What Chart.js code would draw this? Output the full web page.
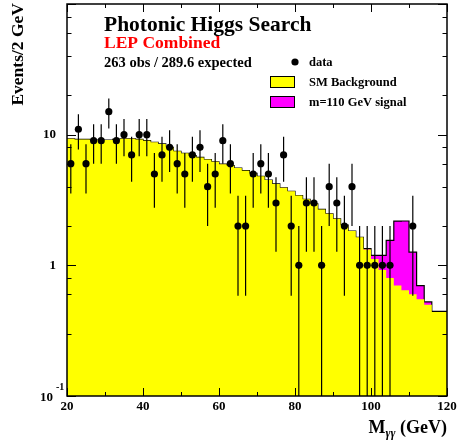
<!DOCTYPE html>
<html>
<head>
<meta charset="utf-8">
<script src="https://cdn.jsdelivr.net/npm/chart.js@4.4.1/dist/chart.umd.min.js"></script>
<style>
  html, body { margin: 0; padding: 0; background: #fff; }
</style>
</head>
<body>
<canvas id="c" width="457" height="441"></canvas>
<script>
const FONT = '"Liberation Serif", "Times New Roman", serif';

// 2 GeV bins from 20 to 120 GeV
const binStart = 20, binWidth = 2;
const observed = [
  6, 11, 6, 9, 9, 15, 9, 10, 7, 10,
  10, 5, 7, 8, 6, 5, 7, 8, 4, 5,
  9, 6, 2, 2, 5, 6, 5, 3, 7, 2,
  1, 3, 3, 1, 4, 3, 2, 4, 1, 1,
  1, 1, 1, 0, 0, 2, 0, 0, 0, 0
];
const smBackground = [
  9.4, 9.3, 9.2, 9.2, 9.1, 9.1, 9.1, 9.2, 9.3, 9.3,
  9.2, 9.0, 8.75, 8.5, 8.0, 7.45, 7.2, 6.9, 6.7, 6.45,
  6.2, 5.95, 5.8, 5.55, 5.3, 5.05, 4.8, 4.5, 4.2, 3.92,
  3.69, 3.42, 3.2, 2.96, 2.68, 2.48, 2.27, 2.03, 1.83, 1.64,
  1.32, 1.12, 0.92, 0.80, 0.70, 0.645, 0.60, 0.55, 0.50, 0.44
];
const higgsSignal = [
  0, 0, 0, 0, 0, 0, 0, 0, 0, 0,
  0, 0, 0, 0, 0, 0, 0, 0, 0, 0,
  0, 0, 0, 0, 0, 0, 0, 0, 0, 0,
  0, 0, 0, 0, 0, 0, 0, 0, 0, 0,
  0.02, 0.07, 0.27, 0.75, 1.48, 1.54, 0.66, 0.15, 0.025, 0.005
];
const xLabelValues = [20, 40, 60, 80, 100, 120];
const yLabelValues = [0.1, 1, 10];

// step outline: one point per lower bin edge, plus the last upper edge
function histPoints(values) {
  const pts = values.map((v, i) => ({ x: binStart + i * binWidth, y: v }));
  pts.push({ x: binStart + values.length * binWidth, y: values[values.length - 1] });
  return pts;
}
const totalExpected = smBackground.map((b, i) => b + higgsSignal[i]);
const dataPoints = observed
  .map((n, i) => ({ x: binStart + (i + 0.5) * binWidth, y: n }))
  .filter(p => p.y > 0);

const rootStyle = {
  id: 'rootStyle',
  beforeDatasetDraw(chart, args) {
    if (args.index !== 0) return;
    const { ctx, chartArea: a, scales: { x, y } } = chart;
    ctx.save();
    ctx.beginPath();
    ctx.rect(a.left, a.top, a.right - a.left, a.bottom - a.top);
    ctx.clip();
    ctx.strokeStyle = '#000';
    ctx.lineWidth = 1.2;
    dataPoints.forEach(p => {
      const err = Math.sqrt(p.y);
      const px = x.getPixelForValue(p.x);
      const hi = y.getPixelForValue(p.y + err);
      const lo = p.y - err > 0 ? y.getPixelForValue(p.y - err) : a.bottom;
      ctx.beginPath();
      ctx.moveTo(px, hi);
      ctx.lineTo(px, lo);
      ctx.stroke();
    });
    ctx.restore();
  },
  afterDraw(chart) {
    const { ctx, chartArea: a, scales: { x, y } } = chart;
    ctx.save();
    ctx.strokeStyle = '#000';
    ctx.fillStyle = '#000';

    // frame
    ctx.lineWidth = 1.5;
    ctx.strokeRect(a.left, a.top, a.right - a.left, a.bottom - a.top);

    // inward ticks on all four sides
    ctx.lineWidth = 1;
    let xt = x.ticks.map(t => t.value);
    if (!xt.length) for (let v = 20; v <= 120; v += 5) xt.push(v);
    xt.forEach(v => {
      const px = Math.round(x.getPixelForValue(v)) + 0.5;
      const len = v % 20 === 0 ? 8 : 4;
      ctx.beginPath();
      ctx.moveTo(px, a.bottom); ctx.lineTo(px, a.bottom - len);
      ctx.moveTo(px, a.top); ctx.lineTo(px, a.top + len);
      ctx.stroke();
    });
    y.ticks.forEach(t => {
      const v = t.value;
      const py = Math.round(y.getPixelForValue(v)) + 0.5;
      const lg = Math.log10(v);
      const len = Math.abs(lg - Math.round(lg)) < 1e-6 ? 9 : 4.5;
      ctx.beginPath();
      ctx.moveTo(a.left, py); ctx.lineTo(a.left + len, py);
      ctx.moveTo(a.right, py); ctx.lineTo(a.right - len, py);
      ctx.stroke();
    });

    // tick labels
    ctx.font = 'bold 13px ' + FONT;
    ctx.textAlign = 'center';
    ctx.textBaseline = 'middle';
    xLabelValues.forEach(v => ctx.fillText(String(v), x.getPixelForValue(v), a.bottom + 11));
    ctx.textAlign = 'right';
    yLabelValues.forEach(v => {
      const py = y.getPixelForValue(v);
      if (v >= 1) {
        ctx.fillText(String(v), a.left - 11, py);
      } else {
        const exp = Math.round(Math.log10(v));
        ctx.fillText('10', a.left - 14, py + 2);
        ctx.textAlign = 'left';
        ctx.font = 'bold 10px ' + FONT;
        ctx.fillText(String(exp), a.left - 11, py - 9);
        ctx.font = 'bold 13px ' + FONT;
        ctx.textAlign = 'right';
      }
    });

    // axis titles
    ctx.save();
    ctx.translate(23, a.top - 1);
    ctx.rotate(-Math.PI / 2);
    ctx.font = 'bold 17.5px ' + FONT;
    ctx.textAlign = 'right';
    ctx.textBaseline = 'alphabetic';
    ctx.fillText('Events/2 GeV', 0, 0);
    ctx.restore();

    ctx.textBaseline = 'alphabetic';
    ctx.textAlign = 'left';
    const big = 'bold 18px ' + FONT, sub = 'italic bold 12px ' + FONT;
    ctx.font = big; const wM = ctx.measureText('M').width;
    const wTail = ctx.measureText(' (GeV)').width;
    ctx.font = sub; const wSub = ctx.measureText('γγ').width;
    let tx = a.right - (wM + wSub + wTail);
    ctx.font = big; ctx.fillText('M', tx, 433); tx += wM;
    ctx.font = sub; ctx.fillText('γγ', tx, 437); tx += wSub;
    ctx.font = big; ctx.fillText(' (GeV)', tx, 433);

    // header text
    ctx.font = 'bold 21.5px ' + FONT;
    ctx.fillText('Photonic Higgs Search', 104, 30.5);
    ctx.fillStyle = '#ff0000';
    ctx.font = 'bold 17.5px ' + FONT;
    ctx.fillText('LEP Combined', 104, 48);
    ctx.fillStyle = '#000';
    ctx.font = 'bold 14.5px ' + FONT;
    ctx.fillText('263 obs / 289.6 expected', 104, 66.5);

    // legend
    ctx.beginPath();
    ctx.arc(295, 62, 3.6, 0, Math.PI * 2);
    ctx.fill();
    ctx.lineWidth = 1;
    ctx.fillStyle = '#ffff00';
    ctx.fillRect(270.5, 76.5, 24, 11);
    ctx.strokeRect(270.5, 76.5, 24, 11);
    ctx.fillStyle = '#ff00ff';
    ctx.fillRect(270.5, 96.5, 24, 11);
    ctx.strokeRect(270.5, 96.5, 24, 11);
    ctx.fillStyle = '#000';
    ctx.font = 'bold 12.5px ' + FONT;
    ctx.fillText('data', 309, 65.5);
    ctx.fillText('SM Background', 309, 85.5);
    ctx.fillText('m=110 GeV signal', 309, 105.5);
    ctx.restore();
  }
};

new Chart(document.getElementById('c'), {
  type: 'line',
  data: {
    datasets: [
      {
        label: 'data',
        data: dataPoints,
        showLine: false,
        pointRadius: 3.6,
        pointBackgroundColor: '#000',
        pointBorderWidth: 0
      },
      {
        label: 'SM Background',
        data: histPoints(smBackground),
        stepped: 'after',
        fill: 'start',
        backgroundColor: '#ffff00',
        borderWidth: 0,
        pointRadius: 0
      },
      {
        label: 'm=110 GeV signal',
        data: histPoints(totalExpected),
        stepped: 'after',
        fill: 'start',
        backgroundColor: '#ff00ff',
        borderColor: '#000',
        borderWidth: 1.2,
        pointRadius: 0
      }
    ]
  },
  options: {
    responsive: false,
    animation: false,
    layout: { padding: { left: 67, right: 10, top: 3, bottom: 45 } },
    plugins: { legend: { display: false }, tooltip: { enabled: false } },
    scales: {
      x: { type: 'linear', min: 20, max: 120, display: false, ticks: { stepSize: 5 } },
      y: { type: 'logarithmic', min: 0.1, max: 100, display: false }
    }
  },
  plugins: [rootStyle]
});
</script>
</body>
</html>
